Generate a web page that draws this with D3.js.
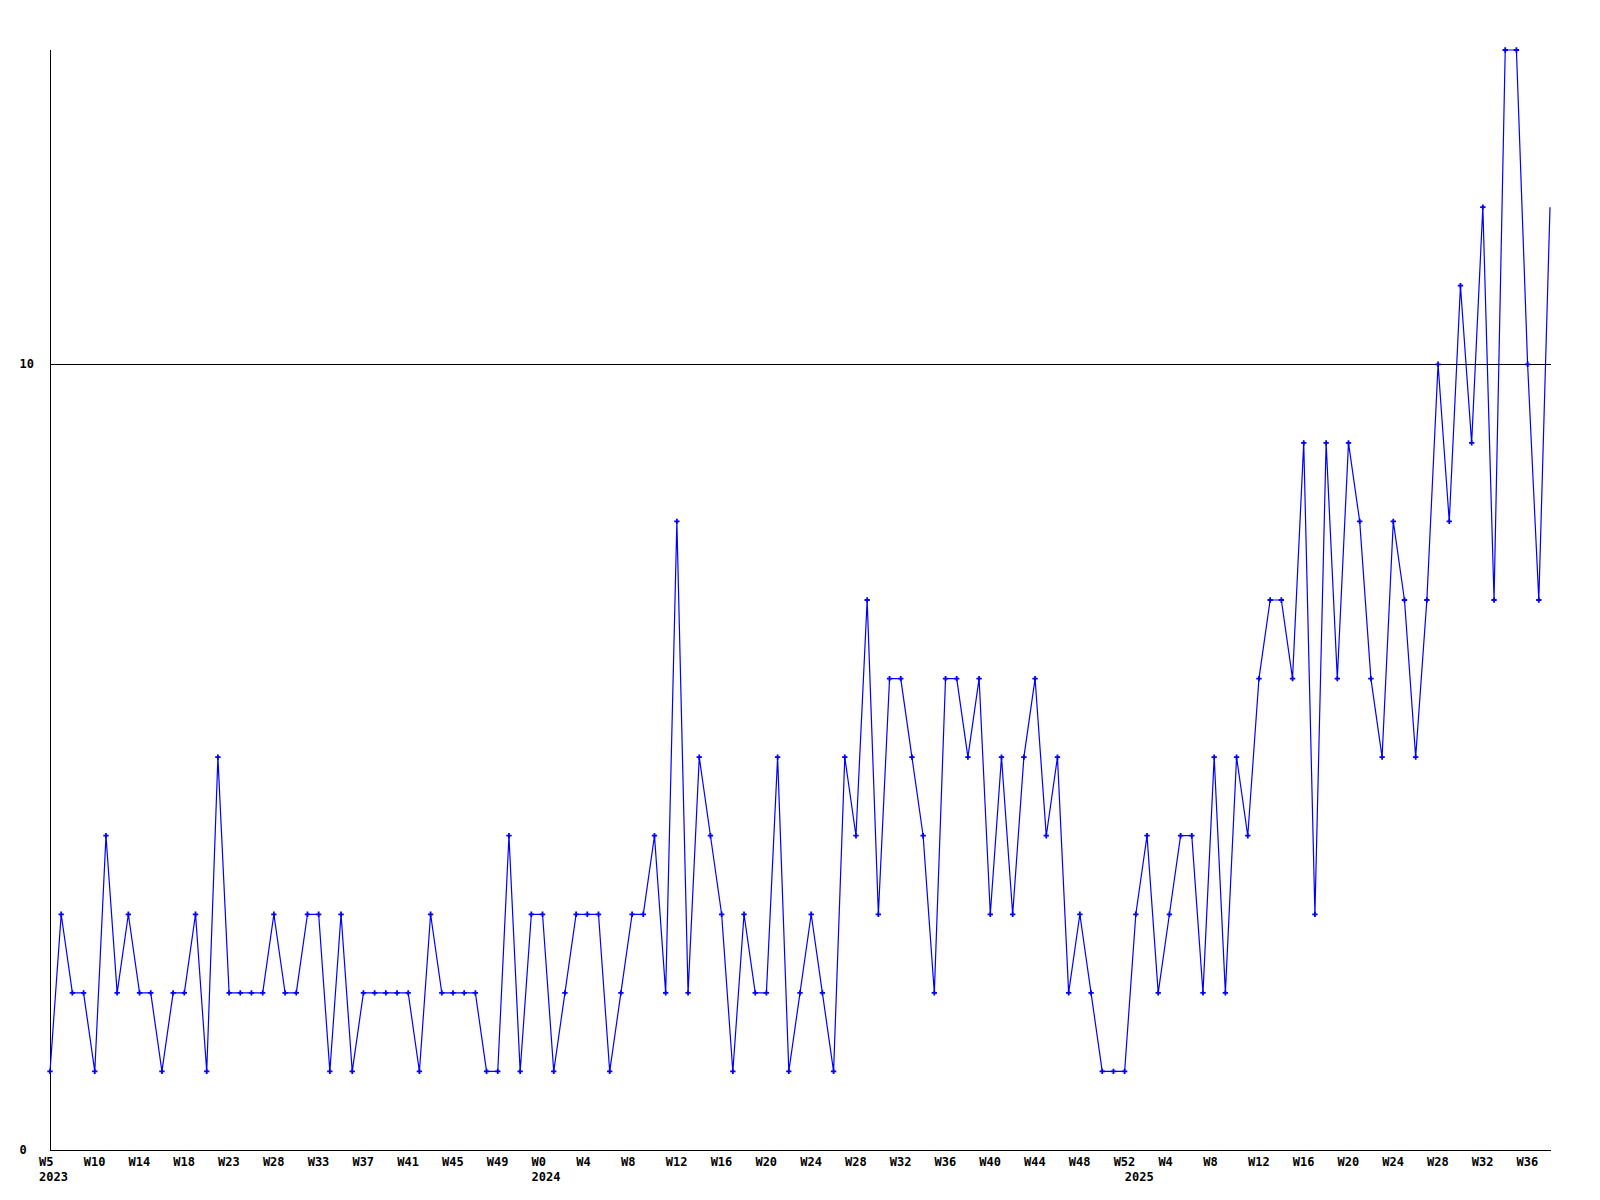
<!DOCTYPE html>
<html>
<head>
<meta charset="utf-8">
<script src="https://cdn.jsdelivr.net/npm/d3@7"></script>
<style>
  html, body { margin: 0; padding: 0; background: #ffffff; }
  svg { display: block; }
  text { font-family: "DejaVu Sans Mono", "Liberation Mono", monospace; font-weight: bold; font-size: 12px; fill: #000; }
</style>
</head>
<body>
<svg id="chart" width="1600" height="1200"></svg>
<script>
// Weekly counts (one point per week)
const values = [1,3,2,2,1,4,2,3,2,2,1,2,2,3,1,5,2,2,2,2,3,2,2,3,3,1,3,1,2,2,
  2,2,2,1,3,2,2,2,2,1,1,4,1,3,3,1,2,3,3,3,1,2,3,3,4,2,8,2,5,4,
  3,1,3,2,2,5,1,2,3,2,1,5,4,7,3,6,6,5,4,2,6,6,5,6,3,5,3,5,6,4,
  5,2,3,2,1,1,1,3,4,2,3,4,4,2,5,2,5,4,6,7,7,6,9,3,9,6,9,8,6,5,
  8,7,5,7,10,8,11,9,12,7,14,14,10,7,12];

// Week tick labels, one every 4 points
const weekLabels = ["W5","W10","W14","W18","W23","W28","W33","W37","W41","W45","W49",
  "W0","W4","W8","W12","W16","W20","W24","W28","W32","W36","W40","W44","W48","W52",
  "W4","W8","W12","W16","W20","W24","W28","W32","W36"];
const weekTickStep = 4;

// Year labels and the point index where they are placed
const yearLabels = ["2023","2024","2025"];
const yearIndex = [0,44,97];

// Y axis labels
const yTicks = [0,10];
const yMax = 14;

const svg = d3.select("#chart");
const x = d3.scaleLinear().domain([0, values.length - 1]).range([50, 1550]);
const y = d3.scaleLinear().domain([0, yMax]).range([1150, 50]);

// axes lines
svg.append("line").attr("x1", 50.5).attr("x2", 50.5).attr("y1", y(yMax)).attr("y2", y(0))
  .attr("stroke", "#000").attr("stroke-width", 1);
svg.append("line").attr("x1", 50).attr("x2", 1551).attr("y1", y(0) + 0.5).attr("y2", y(0) + 0.5)
  .attr("stroke", "#000").attr("stroke-width", 1);

// horizontal reference line(s) at non-zero y ticks
svg.selectAll("line.grid").data(yTicks.filter(d => d > 0)).enter().append("line")
  .attr("class", "grid")
  .attr("x1", 50).attr("x2", 1551)
  .attr("y1", d => Math.round(y(d)) + 0.5).attr("y2", d => Math.round(y(d)) + 0.5)
  .attr("stroke", "#000").attr("stroke-width", 1);

// y labels
svg.selectAll("text.ylab").data(yTicks).enter().append("text")
  .attr("class", "ylab")
  .attr("x", 19.5).attr("y", d => y(d) + 4)
  .text(d => d);

// x week labels
svg.selectAll("text.wlab").data(weekLabels).enter().append("text")
  .attr("class", "wlab")
  .attr("x", (d, i) => x(i * weekTickStep) - 11)
  .attr("y", 1166)
  .text(d => d);

// year labels
svg.selectAll("text.yrlab").data(yearLabels).enter().append("text")
  .attr("class", "yrlab")
  .attr("x", (d, i) => x(yearIndex[i]) - 11)
  .attr("y", 1181)
  .text(d => d);

// line
const line = d3.line().x((d, i) => x(i)).y(d => y(d));
svg.append("path").datum(values)
  .attr("d", line)
  .attr("fill", "none")
  .attr("stroke", "#0000ff")
  .attr("stroke-width", 1.2);

// markers (the final, partial week has none)
const sym = d3.symbol().type(d3.symbolCross).size(16);
svg.selectAll("path.mk").data(values.slice(0, values.length - 1)).enter().append("path")
  .attr("class", "mk")
  .attr("d", sym)
  .attr("transform", (d, i) => `translate(${x(i)},${y(d)})`)
  .attr("fill", "#0000ff");
</script>
</body>
</html>
